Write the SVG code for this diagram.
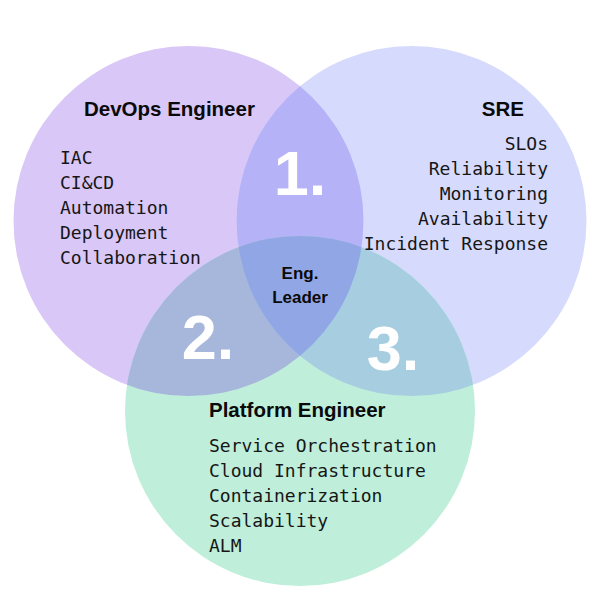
<svg xmlns="http://www.w3.org/2000/svg" width="600" height="600" viewBox="0 0 600 600">
  <style>
    .title { font-family: "Liberation Sans", Arial, sans-serif; font-weight: bold; font-size: 20.5px; fill: #0a0a0a; }
    .item { font-family: "DejaVu Sans Mono", "Liberation Mono", monospace; font-size: 18px; fill: #161616; }
    .center { font-family: "Liberation Sans", Arial, sans-serif; font-weight: bold; font-size: 17px; fill: #0a0a0a; text-anchor: middle; }
    .num { font-family: "Liberation Sans", Arial, sans-serif; font-weight: bold; font-size: 63px; fill: #ffffff; text-anchor: middle; }
  </style>
  <defs>
    <clipPath id="clipL"><circle cx="188.5" cy="221" r="175"/></clipPath>
    <clipPath id="clipR"><circle cx="411.5" cy="221" r="175"/></clipPath>
  </defs>
  <rect width="600" height="600" fill="#ffffff"/>

  <g id="circles">
    <circle id="circle-devops" cx="188.5" cy="221" r="175" fill="#D8C7F7"/>
    <circle id="circle-sre" cx="411.5" cy="221" r="175" fill="#D6DBFD"/>
    <circle id="circle-platform" cx="300" cy="411" r="175" fill="#BFEEDA"/>
    <circle cx="411.5" cy="221" r="175" fill="#B6B2F7" clip-path="url(#clipL)"/>
    <circle cx="300" cy="411" r="175" fill="#A7B6DB" clip-path="url(#clipL)"/>
    <circle cx="300" cy="411" r="175" fill="#A6CDE0" clip-path="url(#clipR)"/>
    <g clip-path="url(#clipL)">
      <circle cx="300" cy="411" r="175" fill="#91A7E5" clip-path="url(#clipR)"/>
    </g>
  </g>

  <g id="devops">
    <text class="title" x="84" y="116">DevOps Engineer</text>
    <text class="item" x="60" y="164">IAC</text>
    <text class="item" x="60" y="189">CI&amp;CD</text>
    <text class="item" x="60" y="214">Automation</text>
    <text class="item" x="60" y="239">Deployment</text>
    <text class="item" x="60" y="264">Collaboration</text>
  </g>

  <g id="sre">
    <text class="title" x="524" y="116" text-anchor="end">SRE</text>
    <text class="item" x="548" y="150" text-anchor="end">SLOs</text>
    <text class="item" x="548" y="175" text-anchor="end">Reliability</text>
    <text class="item" x="548" y="200" text-anchor="end">Monitoring</text>
    <text class="item" x="548" y="225" text-anchor="end">Availability</text>
    <text class="item" x="548" y="250" text-anchor="end">Incident Response</text>
  </g>

  <g id="platform">
    <text class="title" x="209" y="417">Platform Engineer</text>
    <text class="item" x="209" y="452">Service Orchestration</text>
    <text class="item" x="209" y="477">Cloud Infrastructure</text>
    <text class="item" x="209" y="502">Containerization</text>
    <text class="item" x="209" y="527">Scalability</text>
    <text class="item" x="209" y="552">ALM</text>
  </g>

  <g id="overlap-1"><text class="num" x="300" y="195">1.</text></g>
  <g id="overlap-2"><text class="num" x="208" y="359">2.</text></g>
  <g id="overlap-3"><text class="num" x="393" y="370">3.</text></g>

  <g id="eng-leader">
    <text class="center" x="300" y="279">Eng.</text>
    <text class="center" x="300" y="303">Leader</text>
  </g>
</svg>
